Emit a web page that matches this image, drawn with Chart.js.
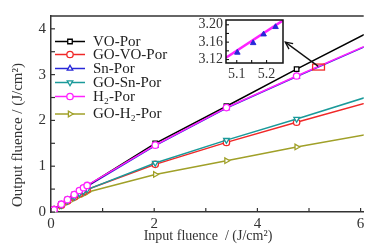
<!DOCTYPE html>
<html><head><meta charset="utf-8">
<script src="https://cdn.jsdelivr.net/npm/chart.js@4"></script>
<style>
html,body{margin:0;padding:0;background:#fff;overflow:hidden}
#wrap{position:relative;width:369px;height:244px}
#main{position:absolute;left:0;top:0;width:369px;height:244px}
#inset{position:absolute;left:188px;top:10px;width:100px;height:72px}
</style></head><body>
<div id="wrap"><canvas id="main" width="369" height="244"></canvas><canvas id="inset" width="100" height="72"></canvas></div>
<script>
// ---- data ----
const inputFluence = [0, 0.06, 0.2, 0.32, 0.45, 0.55, 0.63, 0.7, 2.02, 3.4, 4.76, 6.2];
const voPor   = [0, 0.05, 0.17, 0.27, 0.38, 0.46, 0.52, 0.57, 1.50, 2.31, 3.12, 3.95];
const goVoPor = [0, 0.05, 0.15, 0.24, 0.33, 0.40, 0.45, 0.49, 1.04, 1.52, 1.96, 2.41];
const snPor   = [0, 0.05, 0.16, 0.26, 0.37, 0.45, 0.51, 0.56, 1.45, 2.27, 2.96, 3.67];
const goSnPor = [0, 0.05, 0.15, 0.24, 0.33, 0.40, 0.45, 0.49, 1.07, 1.57, 2.03, 2.54];
const h2Por   = [0, 0.05, 0.17, 0.27, 0.38, 0.47, 0.53, 0.58, 1.46, 2.28, 2.97, 3.68];
const goH2Por = [0, 0.04, 0.13, 0.21, 0.29, 0.35, 0.39, 0.43, 0.82, 1.12, 1.42, 1.71];
const seriesNames = ['VO-Por', 'GO-VO-Por', 'Sn-Por', 'GO-Sn-Por', 'H\u2082-Por', 'GO-H\u2082-Por'];
const xTicks = [0, 1, 2, 3, 4, 5, 6];
const yTicks = [0, 0.5, 1, 1.5, 2, 2.5, 3, 3.5, 4];
// zoomed region (main axes units) and arrow tip
const zoomBoxX = [5.07, 5.30];
const zoomBoxY = [3.10, 3.23];
const arrowFrom = [5.18, 3.18];
const arrowTo = [4.54, 3.71];
// inset data
const insetH2X = [5.064, 5.255];
const insetH2Y = [3.124, 3.210];
const insetSnX = [5.102, 5.155, 5.19, 5.23];
const insetSnY = [3.136, 3.158, 3.178, 3.195];
const insetXTicks = [5.1, 5.15, 5.2];
const insetYTicks = [3.12, 3.14, 3.16, 3.18, 3.20];

const FONT = '"Liberation Serif","Times New Roman",serif';
const AX = '#333';
const colors = ['#000000', '#f02828', '#2828d8', '#1a9a9a', '#ff22ff', '#a0a028'];
const styles = ['rect', 'circle', 'triangle', 'triangle', 'circle', 'triangle'];
const rots = [0, 0, 0, 180, 0, 90];
const orders = [1, 3, 4, 2, 0, 5];
const allY = [voPor, goVoPor, snPor, goSnPor, h2Por, goH2Por];

const datasets = allY.map((ys, k) => ({
  label: seriesNames[k],
  data: inputFluence.map((x, i) => ({x, y: ys[i]})),
  borderColor: colors[k], backgroundColor: '#fff',
  pointBorderColor: colors[k], pointBackgroundColor: '#fff',
  pointStyle: styles[k], pointRotation: rots[k],
  pointRadius: 3.2, pointBorderWidth: 1.3, borderWidth: 1.5,
  order: orders[k], tension: 0
}));

const legendY = [41.5, 54.5, 68.5, 82.5, 96.5, 114];

const decor = {
  id: 'decor',
  afterDraw(chart) {
    const ctx = chart.ctx, ca = chart.chartArea;
    const xs = chart.scales.x, ys = chart.scales.y;
    ctx.save();
    ctx.strokeStyle = AX; ctx.lineWidth = 1.5;
    ctx.beginPath(); ctx.moveTo(ca.left, ca.top); ctx.lineTo(ca.right, ca.top); ctx.stroke();
    ctx.lineWidth = 1.2;
    xTicks.forEach(v => { const p = xs.getPixelForValue(v); ctx.beginPath(); ctx.moveTo(p, ca.bottom); ctx.lineTo(p, ca.bottom - 4); ctx.stroke(); });
    yTicks.forEach(v => { const p = ys.getPixelForValue(v); ctx.beginPath(); ctx.moveTo(ca.left, p); ctx.lineTo(ca.left + 4, p); ctx.stroke(); });
    // zoom box
    ctx.strokeStyle = '#f02828'; ctx.lineWidth = 1.3;
    const bx0 = xs.getPixelForValue(zoomBoxX[0]), bx1 = xs.getPixelForValue(zoomBoxX[1]);
    const by0 = ys.getPixelForValue(zoomBoxY[1]), by1 = ys.getPixelForValue(zoomBoxY[0]);
    ctx.strokeRect(bx0, by0, bx1 - bx0, by1 - by0);
    // arrow
    const ax0 = xs.getPixelForValue(arrowFrom[0]), ay0 = ys.getPixelForValue(arrowFrom[1]);
    const ax1 = xs.getPixelForValue(arrowTo[0]), ay1 = ys.getPixelForValue(arrowTo[1]);
    ctx.strokeStyle = '#111'; ctx.lineWidth = 1.3;
    ctx.beginPath(); ctx.moveTo(ax0, ay0); ctx.lineTo(ax1, ay1); ctx.stroke();
    const ang = Math.atan2(ay0 - ay1, ax0 - ax1);
    ctx.beginPath();
    ctx.moveTo(ax1 + 8 * Math.cos(ang + 0.45), ay1 + 8 * Math.sin(ang + 0.45));
    ctx.lineTo(ax1, ay1);
    ctx.lineTo(ax1 + 8 * Math.cos(ang - 0.45), ay1 + 8 * Math.sin(ang - 0.45));
    ctx.stroke();
    // legend
    chart.data.datasets.forEach((ds, k) => {
      const y = legendY[k];
      ctx.strokeStyle = ds.borderColor; ctx.lineWidth = 1.5;
      ctx.beginPath(); ctx.moveTo(55, y); ctx.lineTo(85, y); ctx.stroke();
      ctx.fillStyle = '#fff'; ctx.lineWidth = 1.3;
      Chart.helpers.drawPoint(ctx, {pointStyle: ds.pointStyle, rotation: ds.pointRotation, radius: 3.2, borderWidth: 1.3}, 70, y);
      ctx.fillStyle = '#222'; ctx.font = '15px ' + FONT; ctx.textBaseline = 'middle'; ctx.textAlign = 'left';
      ctx.fillText(ds.label, 93, y + 0.5);
    });
    // axis titles
    ctx.fillStyle = AX; ctx.textAlign = 'center'; ctx.textBaseline = 'middle';
    ctx.font = '14px ' + FONT;
    ctx.fillText('Input fluence  / (J/cm\u00B2)', 208, 236);
    ctx.save(); ctx.translate(18, 135); ctx.rotate(-Math.PI / 2);
    ctx.font = '15px ' + FONT;
    ctx.fillText('Output fluence / (J/cm\u00B2)', 0, 0);
    ctx.restore();
    ctx.restore();
  }
};

new Chart(document.getElementById('main'), {
  type: 'line',
  data: {datasets},
  options: {
    responsive: false, animation: false, devicePixelRatio: 1,
    layout: {padding: {top: 16, right: 0, left: 0, bottom: 0}},
    plugins: {legend: {display: false}, tooltip: {enabled: false}},
    scales: {
      x: {type: 'linear', min: 0, max: 6.06,
        afterBuildTicks: s => { s.ticks = xTicks.map(v => ({value: v})); },
        ticks: {callback: v => (v % 2 === 0 ? String(v) : ''), font: {family: FONT, size: 15}, color: AX, padding: 3, maxRotation: 0, autoSkip: false},
        grid: {display: false, drawTicks: false},
        border: {display: true, color: AX, width: 1.5},
        afterFit: s => { s.height = 32; s.paddingLeft = 0; s.paddingRight = 0; }
      },
      y: {min: 0, max: 4.28,
        afterBuildTicks: s => { s.ticks = yTicks.map(v => ({value: v})); },
        ticks: {callback: v => (Number.isInteger(v) ? String(v) : ''), font: {family: FONT, size: 15}, color: AX, padding: 5, autoSkip: false},
        grid: {display: false, drawTicks: false},
        border: {display: true, color: AX, width: 1.5},
        afterFit: s => { s.width = 51; s.paddingTop = 0; s.paddingBottom = 0; }
      }
    }
  },
  plugins: [decor]
});

// ---- inset ----
const insetFrame = {
  id: 'insetFrame',
  beforeDraw(chart) { const c = chart.ctx, ca = chart.chartArea; c.save(); c.fillStyle = '#fff'; c.fillRect(ca.left, ca.top, ca.right - ca.left, ca.bottom - ca.top); c.restore(); },
  afterDraw(chart) {
    const ctx = chart.ctx, ca = chart.chartArea, xs = chart.scales.x, ys = chart.scales.y;
    ctx.save(); ctx.strokeStyle = '#111'; ctx.lineWidth = 1.5;
    ctx.strokeRect(ca.left, ca.top, ca.right - ca.left, ca.bottom - ca.top);
    ctx.lineWidth = 1.1;
    insetXTicks.forEach(v => { const p = xs.getPixelForValue(v); ctx.beginPath(); ctx.moveTo(p, ca.bottom); ctx.lineTo(p, ca.bottom - 3); ctx.stroke(); });
    insetYTicks.forEach(v => { const p = ys.getPixelForValue(v); ctx.beginPath(); ctx.moveTo(ca.left, p); ctx.lineTo(ca.left + 3, p); ctx.stroke(); });
    ctx.restore();
  }
};
new Chart(document.getElementById('inset'), {
  type: 'line',
  data: {datasets: [
    {data: insetSnX.map((x, i) => ({x, y: insetSnY[i]})), showLine: false, pointStyle: 'triangle', pointRadius: 3.2,
     pointBackgroundColor: '#2828d8', pointBorderColor: '#2828d8', borderColor: '#2828d8', order: 0},
    {data: insetH2X.map((x, i) => ({x, y: insetH2Y[i]})), borderColor: '#ff22ff', borderWidth: 2.5, pointRadius: 0, order: 1}
  ]},
  options: {
    responsive: false, animation: false, devicePixelRatio: 1,
    layout: {padding: {top: 10, right: 4, left: 0, bottom: 0}},
    plugins: {legend: {display: false}, tooltip: {enabled: false}},
    scales: {
      x: {type: 'linear', min: 5.064, max: 5.255,
        afterBuildTicks: s => { s.ticks = insetXTicks.map(v => ({value: v})); },
        ticks: {callback: v => (Math.abs(v * 10 - Math.round(v * 10)) < 1e-6 ? v.toFixed(1) : ''), font: {family: FONT, size: 14}, color: AX, padding: 3, maxRotation: 0, autoSkip: false},
        grid: {display: false, drawTicks: false}, border: {display: false},
        afterFit: s => { s.height = 19; s.paddingLeft = 0; s.paddingRight = 0; }
      },
      y: {min: 3.112, max: 3.211,
        afterBuildTicks: s => { s.ticks = insetYTicks.map(v => ({value: v})); },
        ticks: {callback: v => ([3.12, 3.16, 3.20].some(t => Math.abs(t - v) < 1e-6) ? v.toFixed(2) : ''), font: {family: FONT, size: 14}, color: AX, padding: 3, autoSkip: false},
        grid: {display: false, drawTicks: false}, border: {display: false},
        afterFit: s => { s.width = 38; s.paddingTop = 0; s.paddingBottom = 0; }
      }
    }
  },
  plugins: [insetFrame]
});
</script>
</body></html>
